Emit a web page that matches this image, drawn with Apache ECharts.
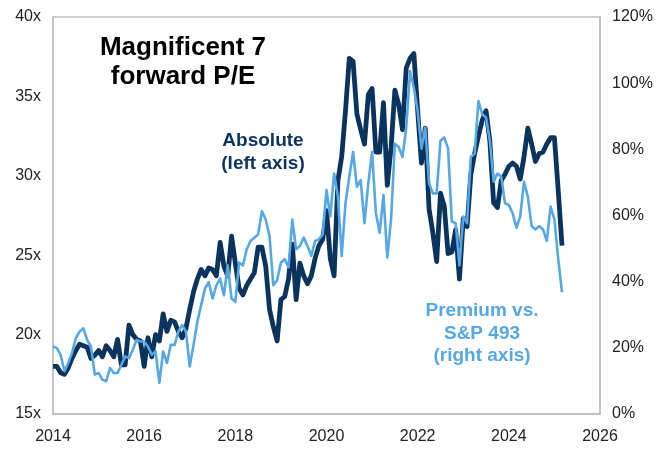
<!DOCTYPE html>
<html>
<head>
<meta charset="utf-8">
<script src="https://cdn.jsdelivr.net/npm/echarts@6/dist/echarts.min.js"></script>
<style>
  html, body { margin: 0; padding: 0; background: #fff; }
  #main { width: 661px; height: 449px; }
</style>
</head>
<body>
<div id="main"></div>
<script>
// monthly, Jan 2014 .. Mar 2025
const startYear = 2014;
const yearTicks = [2014, 2016, 2018, 2020, 2022, 2024, 2026];

// Magnificent 7 forward P/E (left axis, x)
const absolutePE = [
  18.0, 18.0, 17.6, 17.5, 17.9, 18.5, 19.0, 19.4, 19.3, 19.2, 18.5, 18.7,
  19.0, 18.6, 19.3, 19.0, 18.6, 19.7, 18.1, 18.1, 20.6, 20.0, 19.7, 19.6,
  18.0, 19.8, 18.6, 20.0, 19.6, 21.3, 20.2, 20.9, 20.8, 20.2, 19.8, 20.4,
  21.6, 22.7, 23.5, 24.1, 23.7, 24.2, 24.1, 23.7, 25.8, 24.3, 23.7, 26.2,
  24.5, 22.9, 22.5, 23.1, 23.5, 23.9, 25.5, 25.5, 24.3, 21.6, 20.5, 19.6,
  22.2, 22.4, 23.5, 25.7, 22.2, 24.5, 23.7, 23.2, 23.7, 24.8, 25.6, 26.0,
  27.8, 24.8, 23.7, 29.7, 31.2, 34.1, 37.4, 37.2, 33.9, 32.9, 32.0, 35.1,
  35.5, 31.5, 31.5, 34.6, 29.4, 31.8, 35.4, 34.5, 32.9, 36.8, 37.4, 37.7,
  34.1, 30.8, 33.0, 27.9, 26.4, 24.6, 28.9, 28.1, 25.1, 25.2, 26.6, 23.5,
  27.3, 26.8, 30.1, 31.4, 32.5, 33.5, 34.1, 32.2, 28.3, 28.0, 29.7, 30.1,
  30.6, 30.8, 30.6, 29.8, 31.2, 33.0, 32.0, 30.9, 31.4, 31.5, 32.0, 32.4,
  32.4, 29.1, 25.6
];

// Premium vs. S&P 493 (right axis, %)
const premiumPct = [
  20.4, 19.9, 17.9, 12.9, 15.4, 18.4, 22.9, 24.9, 25.9, 22.4, 20.4, 11.9,
  12.4, 10.4, 9.9, 13.9, 12.4, 12.4, 14.9, 17.4, 16.9, 19.4, 22.4, 21.9,
  21.9, 20.4, 17.9, 18.9, 9.4, 18.9, 15.4, 20.9, 20.9, 24.9, 26.9, 24.9,
  14.4, 20.9, 27.9, 32.9, 37.9, 39.9, 34.9, 38.9, 40.9, 35.9, 44.9, 34.9,
  33.9, 45.8, 44.9, 49.8, 52.3, 53.3, 54.3, 61.3, 58.8, 53.8, 38.9, 40.4,
  45.8, 46.8, 44.3, 58.8, 49.8, 50.8, 53.3, 50.8, 47.8, 52.3, 52.8, 54.3,
  67.7, 59.7, 72.7, 65.7, 47.8, 63.7, 71.7, 79.2, 68.7, 70.7, 57.7, 69.7,
  79.2, 60.7, 54.8, 66.2, 47.3, 58.8, 81.7, 80.7, 77.7, 86.6, 103.6, 98.6,
  91.6, 80.2, 86.6, 69.7, 66.7, 66.7, 82.6, 83.6, 80.2, 58.2, 57.7, 44.9,
  59.7, 57.7, 77.7, 78.7, 94.6, 90.6, 89.6, 82.6, 70.2, 72.7, 71.7, 63.7,
  63.2, 60.7, 56.3, 59.7, 70.2, 65.7, 56.8, 55.8, 56.8, 55.8, 52.3, 62.7,
  58.8, 46.8, 36.8
];

const navy = '#0A335E';
const sky = '#55A7E6';
const labelFont = { fontFamily: 'Liberation Sans, Arial, sans-serif', fontSize: 16, color: '#222' };

const toPairs = (arr) => arr.map((v, i) => [startYear + i / 12, v]);

const chart = echarts.init(document.getElementById('main'));
const option = {
  backgroundColor: '#fff',
  animation: false,
  grid: {
    left: 53, right: 61, top: 17, bottom: 35,
    show: true, borderColor: '#BFBFBF', borderWidth: 1.5
  },
  xAxis: {
    type: 'value',
    min: yearTicks[0], max: yearTicks[yearTicks.length - 1], interval: 2,
    axisLine: { show: true, lineStyle: { color: '#BFBFBF', width: 1.5 } },
    axisTick: { show: false },
    splitLine: { show: false },
    axisLabel: Object.assign({ margin: 15, formatter: (v) => String(v) }, labelFont)
  },
  yAxis: [
    {
      type: 'value', min: 15, max: 40, interval: 5,
      axisLine: { show: true, lineStyle: { color: '#BFBFBF', width: 1.5 } },
      axisTick: { show: false },
      splitLine: { show: false },
      axisLabel: Object.assign({ margin: 12, formatter: '{value}x' }, labelFont)
    },
    {
      type: 'value', min: 0, max: 120, interval: 20, position: 'right',
      axisLine: { show: true, lineStyle: { color: '#BFBFBF', width: 1.5 } },
      axisTick: { show: false },
      splitLine: { show: false },
      axisLabel: Object.assign({ margin: 12, formatter: '{value}%' }, labelFont)
    }
  ],
  graphic: [
    {
      type: 'text', x: 183, y: 33,
      style: {
        text: 'Magnificent 7\nforward P/E', fill: '#000', align: 'center',
        font: 'bold 26px Liberation Sans, Arial, sans-serif', lineHeight: 29
      }
    },
    {
      type: 'text', x: 263, y: 129,
      style: {
        text: 'Absolute\n(left axis)', fill: navy, align: 'center',
        font: 'bold 19px Liberation Sans, Arial, sans-serif', lineHeight: 23
      }
    },
    {
      type: 'text', x: 482, y: 300,
      style: {
        text: 'Premium vs.\nS&P 493\n(right axis)', fill: sky, align: 'center',
        font: 'bold 19px Liberation Sans, Arial, sans-serif', lineHeight: 22.5
      }
    }
  ],
  series: [
    {
      name: 'Absolute', type: 'line', yAxisIndex: 0,
      data: toPairs(absolutePE),
      showSymbol: false, z: 2,
      lineStyle: { color: navy, width: 4.8, join: 'round' }
    },
    {
      name: 'Premium vs. S&P 493', type: 'line', yAxisIndex: 1,
      data: toPairs(premiumPct),
      showSymbol: false, z: 3,
      lineStyle: { color: sky, width: 2.6, join: 'round' }
    }
  ]
};
chart.setOption(option);
</script>
</body>
</html>
